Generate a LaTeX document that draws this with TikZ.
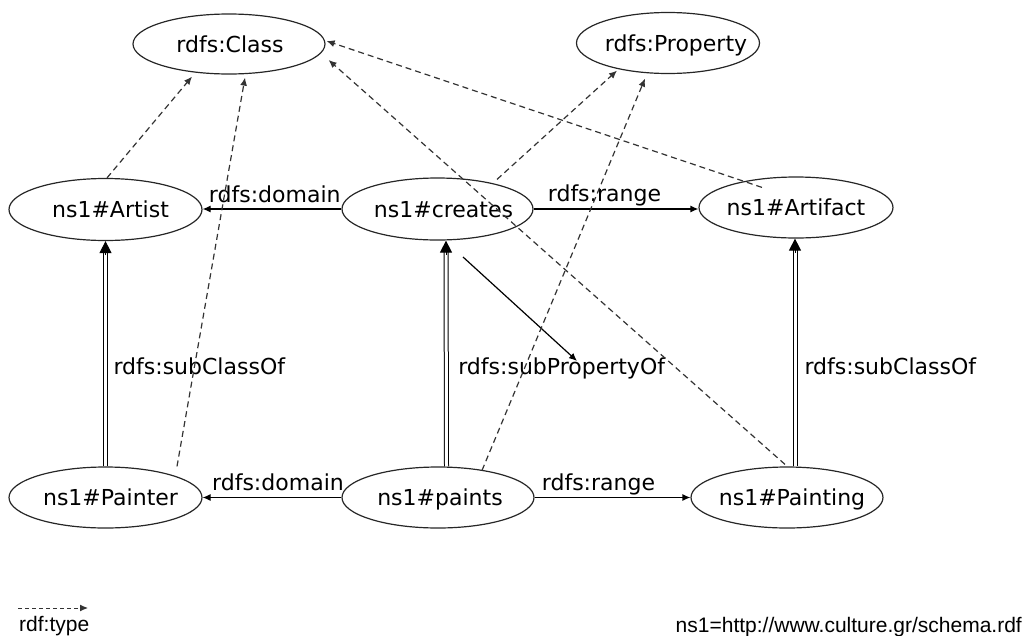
\documentclass[tikz,border=0pt]{standalone}
\usepackage{fontspec}
\setmainfont{DejaVu Sans}
\newfontfamily\legendfont{Liberation Sans}
\usetikzlibrary{shapes.geometric,arrows.meta,calc}

% centred term text, nudged right by #1
\newcommand\termtext[2]{\makebox[0pt]{\hspace*{#1}\hspace*{#1}#2}}

\begin{document}
\begin{tikzpicture}[x=1pt,y=-1pt,
  term/.style={draw=black!85, line width=1.2pt, ellipse, inner sep=0pt,
    minimum width=192pt, minimum height=61pt, text height=16pt, text depth=0pt,
    font=\fontsize{22}{26}\selectfont},
  rel/.style={line width=1.2pt, -{Latex[length=8pt,width=7pt]}},
  typeof/.style={line width=1.2pt, draw=black!80, dash pattern=on 6pt off 4pt,
    -{Latex[length=8pt,width=7pt]}},
  subrel/.style={draw=black, double=white, line width=1pt, double distance=3pt,
    shorten >=10pt},
  subtip/.style={line width=1pt, -{Triangle[length=12pt,width=12pt]}},
  lbl/.style={font=\fontsize{22}{26}\selectfont, inner sep=0pt, anchor=base},
  note/.style={font=\legendfont\fontsize{21}{25}\selectfont, inner sep=0pt}
]
\useasboundingbox (0,0) rectangle (1026,635);

% classes and properties
\node[term, minimum height=60pt] (Class) at (229,44) {\termtext{1pt}{rdfs:Class}};
\node[term, minimum width=183pt] (Property) at (668,43) {\termtext{8pt}{rdfs:Property}};
\node[term, minimum width=193pt, minimum height=62pt] (Artist) at (105.5,209.5) {\termtext{5pt}{ns1\#Artist}};
\node[term, minimum width=191pt, minimum height=62pt] (creates) at (437.5,209) {\termtext{6pt}{ns1\#creates}};
\node[term, minimum width=194pt] (Artifact) at (796,207.5) {\termtext{0pt}{ns1\#Artifact}};
\node[term, minimum width=193pt] (Painter) at (105.5,497.5) {\termtext{5pt}{ns1\#Painter}};
\node[term] (paints) at (438,497.5) {\termtext{2pt}{ns1\#paints}};
\node[term] (Painting) at (787,497.5) {\termtext{5pt}{ns1\#Painting}};

% domain / range
\draw[rel] (creates.west) -- node[lbl, pos=0.48, yshift=7pt] {rdfs:domain} (creates.west -| Artist.east);
\draw[rel] (creates.east) -- node[lbl, pos=0.43, yshift=8pt] {rdfs:range} (creates.east -| Artifact.west);
\draw[rel] (paints.west) -- node[lbl, pos=0.457, yshift=7pt] {rdfs:domain} (paints.west -| Painter.east);
\draw[rel] (paints.east) -- node[lbl, pos=0.41, yshift=7pt] {rdfs:range} (paints.east -| Painting.west);

% subclass / subproperty links
\draw[subrel] (Painter.north) -- node[lbl, anchor=base west, pos=0.407, xshift=7.5pt] {rdfs:subClassOf} (Artist.south);
\draw[subtip] ($(Artist.south)+(0,14)$) -- (Artist.south);

\draw[subrel] ($(paints.north)+(8.5,0)$) -- node[lbl, anchor=base west, pos=0.405, xshift=11.5pt] {rdfs:subPropertyOf} ($(creates.south)+(8.5,0)$);
\draw[subtip] ($(creates.south)+(8.5,14)$) -- ($(creates.south)+(8.5,0)$);

\draw[subrel] ($(Painting.north)+(8,0)$) -- node[lbl, anchor=base west, pos=0.402, xshift=9pt] {rdfs:subClassOf} ($(Artifact.south)+(-1,0)$);
\draw[subtip] ($(Artifact.south)+(-1,14)$) -- ($(Artifact.south)+(-1,0)$);

% free subPropertyOf arrow
\coordinate (sp1) at (463,257);
\coordinate (sp2) at (577,361);
\draw[rel] (sp1) -- (sp2);

% rdf:type links
\draw[typeof] ($(Artist.north)+(1.5,0)$) -- ($(Class.south)+(-37,2)$);
\draw[typeof] ($(Painter.north)+(71.5,0)$) -- ($(Class.south)+(16,3)$);
\draw[typeof] ($(creates.north)+(59.5,2)$) -- ($(Property.south)+(-51,-3.5)$);
\draw[typeof] ($(paints.north)+(44,4)$) -- ($(Property.south)+(-23,4.5)$);
\draw[typeof] ($(Artifact.north)+(-34,11)$) -- ($(Class.east)+(1,-3)$);
\draw[typeof] ($(Painting.north)+(-2,-2)$) -- ($(Class.east)+(3,16)$);

% legend
\coordinate (legA) at (18,608);
\coordinate (legB) at (88,608);
\draw[typeof, line width=1pt, dash pattern=on 4pt off 3pt] (legA) -- (legB);
\node[note, anchor=base west] (legtext) at (19,631) {rdf:type};
\node[note, anchor=base east] (nsdecl) at (1022,632) {ns1=http://www.culture.gr/schema.rdf};
\end{tikzpicture}
\end{document}
